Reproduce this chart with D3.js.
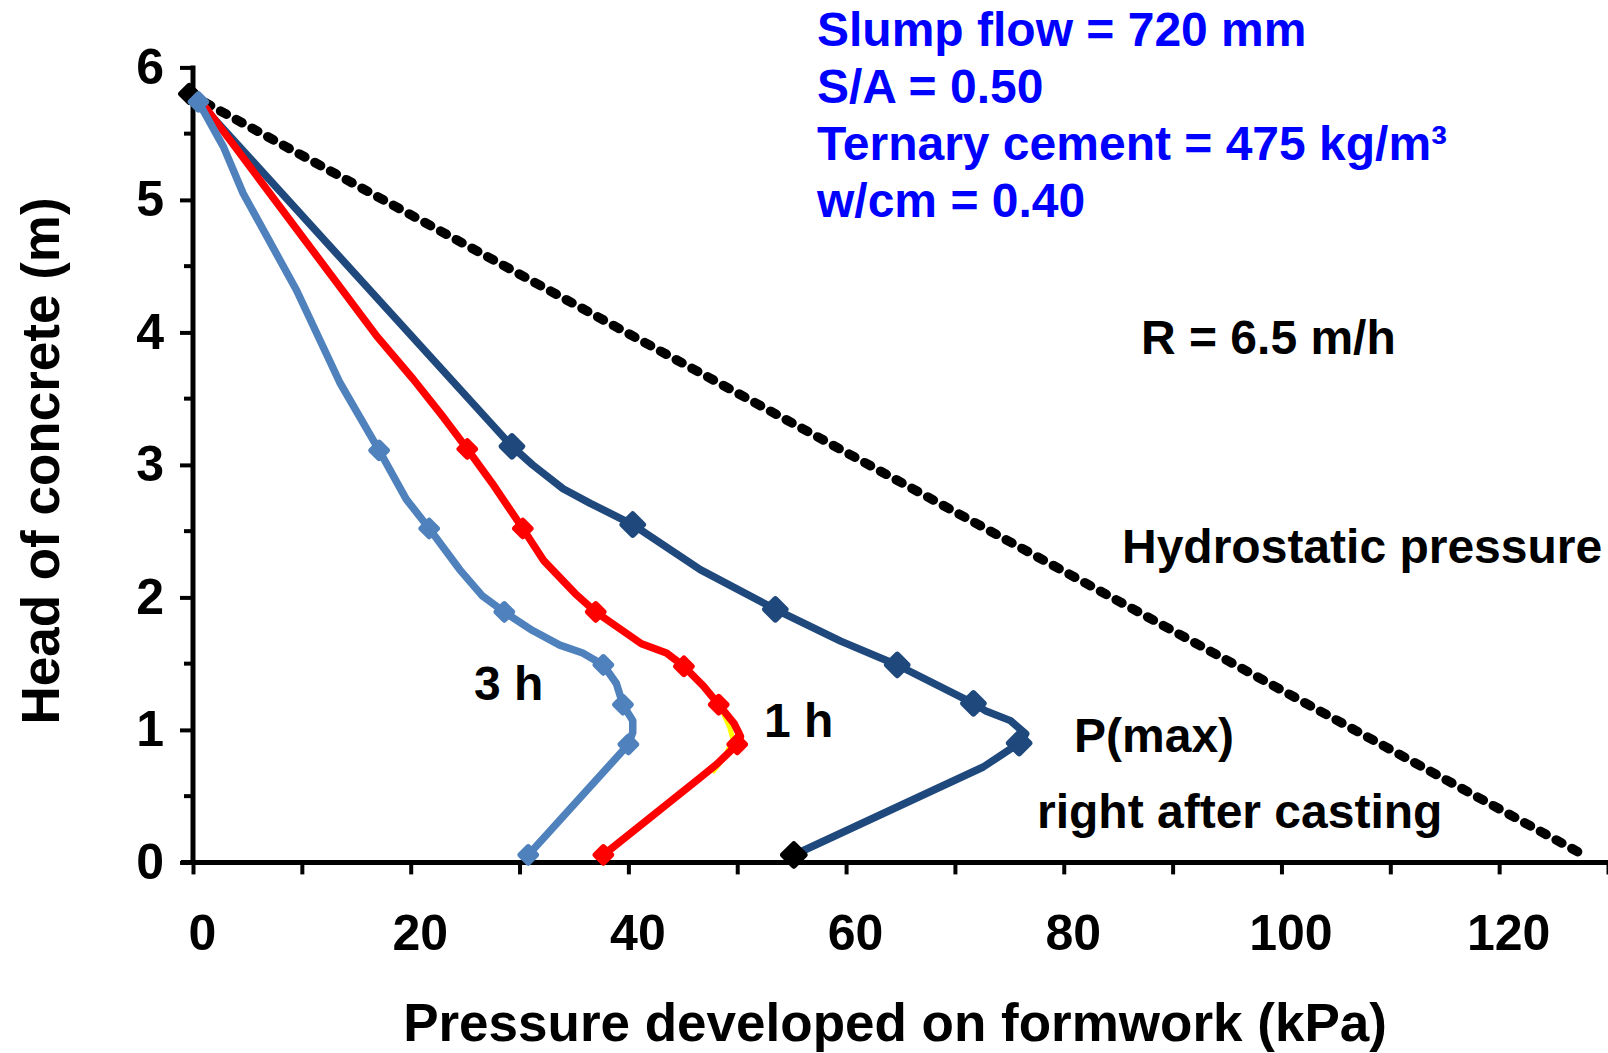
<!DOCTYPE html>
<html>
<head>
<meta charset="utf-8">
<script src="https://cdn.jsdelivr.net/npm/d3@7"></script>
<style>
  html, body { margin: 0; padding: 0; background: #fff; }
  svg { display: block; }
  text { font-family: "Liberation Sans", Arial, sans-serif; font-weight: bold; }
</style>
</head>
<body>
<svg id="chart" width="1608" height="1053"></svg>
<script>
// Hydrostatic pressure line (kPa vs head in m)
const hydroP = [-0.35, 127.9];
const hydroH = [5.80, 0.05];

// Right after casting (dark blue)
const castP = [0.3, 29.3, 31.2, 34.0, 36.5, 40.4, 46.6, 53.5, 59.5, 64.7, 71.7, 72.9, 75.1, 76.5, 75.9, 72.6, 55.2];
const castH = [5.76, 3.14, 3.00, 2.82, 2.71, 2.55, 2.21, 1.91, 1.67, 1.49, 1.20, 1.14, 1.07, 0.97, 0.90, 0.72, 0.056];
const castMarkP = [29.3, 40.4, 53.5, 64.7, 71.7, 75.9];
const castMarkH = [3.14, 2.55, 1.91, 1.49, 1.20, 0.90];
const castEndP = [55.2];
const castEndH = [0.056];

// 1 h after casting (red)
const oneP = [0.4, 16.9, 20.2, 23.0, 25.2, 27.5, 30.3, 32.2, 35.1, 37.0, 41.2, 43.5, 45.1, 46.9, 48.3, 49.7, 50.3, 50.0, 48.1, 46.6, 37.7];
const oneH = [5.78, 3.97, 3.65, 3.36, 3.12, 2.86, 2.52, 2.28, 2.03, 1.89, 1.65, 1.58, 1.48, 1.33, 1.19, 1.05, 0.95, 0.89, 0.74, 0.64, 0.056];
const oneMarkP = [25.2, 30.3, 37.0, 45.1, 48.3, 50.0, 37.7];
const oneMarkH = [3.12, 2.52, 1.89, 1.48, 1.19, 0.89, 0.056];

// Short companion trace lying under the 1 h curve near its peak
const auxP = [48.7, 49.3, 49.6, 48.9, 47.7];
const auxH = [1.13, 1.02, 0.93, 0.80, 0.68];

// 3 h after casting (light blue)
const threeP = [0.5, 2.8, 4.6, 9.5, 13.5, 17.1, 19.6, 21.7, 24.5, 26.6, 28.6, 31.2, 33.7, 35.8, 37.7, 38.9, 39.5, 40.4, 40.4, 40.0, 30.8];
const threeH = [5.74, 5.40, 5.05, 4.32, 3.62, 3.11, 2.74, 2.52, 2.21, 2.01, 1.89, 1.75, 1.64, 1.58, 1.49, 1.35, 1.19, 1.07, 0.98, 0.89, 0.056];
const threeMarkP = [0.5, 17.1, 21.7, 28.6, 37.7, 39.5, 40.0, 30.8];
const threeMarkH = [5.74, 3.11, 2.52, 1.89, 1.49, 1.19, 0.89, 0.056];

// Axis ticks
const xTicks = [0, 10, 20, 30, 40, 50, 60, 70, 80, 90, 100, 110, 120, 130];
const xTickLabels = ["0", "", "20", "", "40", "", "60", "", "80", "", "100", "", "120", ""];
const yMajor = [0, 1, 2, 3, 4, 5, 6];
const yMinor = [0.5, 1.5, 2.5, 3.5, 4.5, 5.5];

const infoLines = ["Slump flow = 720 mm", "S/A = 0.50", "Ternary cement = 475 kg/m\u00B3", "w/cm = 0.40"];

const svg = d3.select("#chart");
svg.append("rect").attr("width", 1608).attr("height", 1053).attr("fill", "#fff");

const x = d3.scaleLinear().domain([0, 130]).range([193, 1608]);
const y = d3.scaleLinear().domain([0, 6]).range([862.4, 67.4]);

const zip = (a, b) => a.map((v, i) => [v, b[i]]);
const line = d3.line().x(d => x(d[0])).y(d => y(d[1]));

// ---- axes ----
const axisCol = "#000";
const gx = svg.append("g").attr("transform", `translate(0,${y(0)})`)
  .call(d3.axisBottom(x).tickValues(xTicks).tickSize(12).tickPadding(40)
    .tickFormat((d, i) => xTickLabels[i]));
gx.select(".domain").attr("d", `M${x(0) - 12},0H${1608}`).attr("stroke", axisCol).attr("stroke-width", 5);
gx.selectAll(".tick line").attr("stroke", axisCol).attr("stroke-width", 4);
gx.selectAll(".tick text").attr("font-size", 50).attr("fill", "#000").attr("dx", 9)
  .attr("font-family", "Liberation Sans, Arial, sans-serif").attr("font-weight", "bold");

const gy = svg.append("g").attr("transform", `translate(${x(0)},0)`)
  .call(d3.axisLeft(y).tickValues(yMajor).tickSize(13).tickPadding(16).tickFormat(d3.format("d")));
gy.select(".domain").attr("d", `M0,${y(6) - 2}V${y(0)}`).attr("stroke", axisCol).attr("stroke-width", 5);
gy.selectAll(".tick line").attr("stroke", axisCol).attr("stroke-width", 4);
gy.selectAll(".tick text").attr("font-size", 50).attr("fill", "#000")
  .attr("font-family", "Liberation Sans, Arial, sans-serif").attr("font-weight", "bold");
gy.selectAll(".minor").data(yMinor).enter().append("line")
  .attr("x1", -9).attr("x2", 0).attr("y1", d => y(d)).attr("y2", d => y(d))
  .attr("stroke", axisCol).attr("stroke-width", 4);

// ---- series ----
// Markers: squares turned 45 degrees with rounded corners
function drawMarks(P, H, color, size) {
  const sym = d3.symbol().type(d3.symbolSquare).size(size);
  svg.append("g").selectAll("path").data(zip(P, H)).enter().append("path")
    .attr("d", sym())
    .attr("transform", d => `translate(${x(d[0])},${y(d[1])}) rotate(45)`)
    .attr("fill", color).attr("stroke", color).attr("stroke-width", 6)
    .attr("stroke-linejoin", "round");
}

// hydrostatic
svg.append("path").datum(zip(hydroP, hydroH)).attr("d", line)
  .attr("fill", "none").attr("stroke", "#000").attr("stroke-width", 9.5)
  .attr("stroke-dasharray", "6.5 11.4").attr("stroke-linecap", "round");
drawMarks([hydroP[0]], [hydroH[0]], "#000", 130);

// right after casting
const darkBlue = "#1F497D";
svg.append("path").datum(zip(castP, castH)).attr("d", line)
  .attr("fill", "none").attr("stroke", darkBlue).attr("stroke-width", 7.5)
  .attr("stroke-linejoin", "round").attr("stroke-linecap", "round");
drawMarks(castMarkP, castMarkH, darkBlue, 210);
drawMarks(castEndP, castEndH, "#000", 230);

// 1 h
svg.append("path").datum(zip(auxP, auxH)).attr("d", line)
  .attr("fill", "none").attr("stroke", "#FFFF00").attr("stroke-width", 5)
  .attr("stroke-linejoin", "round");
svg.append("path").datum(zip(oneP, oneH)).attr("d", line)
  .attr("fill", "none").attr("stroke", "#FF0000").attr("stroke-width", 7.5)
  .attr("stroke-linejoin", "round").attr("stroke-linecap", "round");
drawMarks(oneMarkP, oneMarkH, "#FF0000", 120);

// 3 h
const lightBlue = "#4F81BD";
svg.append("path").datum(zip(threeP, threeH)).attr("d", line)
  .attr("fill", "none").attr("stroke", lightBlue).attr("stroke-width", 7.5)
  .attr("stroke-linejoin", "round").attr("stroke-linecap", "round");
drawMarks(threeMarkP, threeMarkH, lightBlue, 120);

// ---- titles and annotations ----
svg.append("text").attr("x", 895).attr("y", 1041).attr("text-anchor", "middle")
  .attr("font-size", 53).text("Pressure developed on formwork (kPa)");
svg.append("text").attr("transform", "translate(59,461) rotate(-90)").attr("text-anchor", "middle")
  .attr("font-size", 53).text("Head of concrete (m)");

svg.append("g").selectAll("text").data(infoLines).enter().append("text")
  .attr("x", 817).attr("y", (d, i) => 46 + i * 57)
  .attr("font-size", 48).attr("fill", "#0000FF").text(d => d);

const notes = [
  { t: "R = 6.5 m/h", x: 1141, y: 354 },
  { t: "Hydrostatic pressure", x: 1122, y: 563 },
  { t: "P(max)", x: 1074, y: 752 },
  { t: "right after casting", x: 1037, y: 828 },
  { t: "3 h", x: 474, y: 700 },
  { t: "1 h", x: 764, y: 737 }
];
svg.append("g").selectAll("text").data(notes).enter().append("text")
  .attr("x", d => d.x).attr("y", d => d.y).attr("font-size", 48).attr("fill", "#000")
  .text(d => d.t);
</script>
</body>
</html>
